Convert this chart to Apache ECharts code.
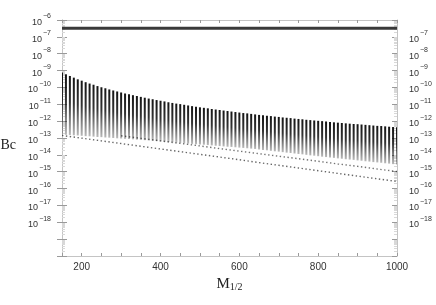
<!DOCTYPE html>
<html>
<head>
<meta charset="utf-8">
<script src="https://cdn.jsdelivr.net/npm/echarts@6/dist/echarts.min.js"></script>
<style>
html,body{margin:0;padding:0;background:#fff;}
#c{width:436px;height:305px;}
</style>
</head>
<body>
<div id="c"></div>
<script>
// ---- data ----
const xs = [150,160,170,180,190,200,210,220,230,240,250,260,270,280,290,300,310,320,330,340,350,360,370,380,390,400,410,420,430,440,450,460,470,480,490,500,510,520,530,540,550,560,570,580,590,600,610,620,630,640,650,660,670,680,690,700,710,720,730,740,750,760,770,780,790,800,810,820,830,840,850,860,870,880,890,900,910,920,930,940,950,960,970,980,990,1000];
// upper edge of each dotted column (log10 of Bc)
const upperLog10 = [-9.11,-9.22,-9.32,-9.42,-9.52,-9.60,-9.69,-9.77,-9.84,-9.92,-9.99,-10.05,-10.12,-10.18,-10.24,-10.30,-10.36,-10.41,-10.46,-10.51,-10.56,-10.61,-10.66,-10.70,-10.75,-10.79,-10.83,-10.88,-10.92,-10.96,-10.99,-11.03,-11.07,-11.11,-11.14,-11.18,-11.21,-11.24,-11.28,-11.31,-11.34,-11.37,-11.40,-11.43,-11.46,-11.49,-11.52,-11.54,-11.57,-11.60,-11.63,-11.65,-11.68,-11.70,-11.73,-11.75,-11.78,-11.80,-11.82,-11.85,-11.87,-11.89,-11.92,-11.94,-11.96,-11.98,-12.00,-12.02,-12.05,-12.07,-12.09,-12.11,-12.13,-12.15,-12.17,-12.18,-12.20,-12.22,-12.24,-12.26,-12.28,-12.29,-12.31,-12.33,-12.35,-12.36];
// lower edge of each dotted column (log10 of Bc)
const lowerLog10 = [-12.79,-12.81,-12.82,-12.84,-12.85,-12.87,-12.89,-12.90,-12.92,-12.94,-12.95,-12.97,-12.98,-13.00,-13.02,-13.03,-13.05,-13.06,-13.08,-13.10,-13.11,-13.13,-13.14,-13.16,-13.18,-13.20,-13.22,-13.24,-13.26,-13.27,-13.29,-13.31,-13.33,-13.35,-13.37,-13.39,-13.40,-13.42,-13.44,-13.46,-13.48,-13.50,-13.52,-13.53,-13.55,-13.57,-13.59,-13.61,-13.63,-13.65,-13.68,-13.71,-13.73,-13.76,-13.79,-13.81,-13.84,-13.87,-13.89,-13.92,-13.95,-13.97,-14.00,-14.03,-14.05,-14.08,-14.11,-14.13,-14.16,-14.18,-14.21,-14.23,-14.26,-14.28,-14.30,-14.33,-14.35,-14.38,-14.40,-14.43,-14.45,-14.47,-14.50,-14.52,-14.55,-14.57];
// two isolated dotted curves below the cloud
const lowAXs = [150,200,250,300,350,400,450,500,550,600,650,700,750,800,850,900,950,1000];
const lowALog10 = [-12.85,-13.01,-13.17,-13.33,-13.49,-13.65,-13.81,-13.97,-14.13,-14.29,-14.46,-14.62,-14.78,-14.94,-15.10,-15.26,-15.42,-15.58];
const lowBXs = [300,350,400,450,500,550,600,650,700,750,800,850,900,950,1000];
const lowBLog10 = [-12.87,-13.02,-13.17,-13.32,-13.47,-13.63,-13.78,-13.93,-14.08,-14.23,-14.38,-14.54,-14.68,-14.84,-14.99];
// horizontal bound
const boundXs = [150,1000];
const boundValue = 3.2e-7;
// tick labels
const xLabelValues = [200,400,600,800,1000];
const leftLabelExps = [-6,-7,-8,-9,-10,-11,-12,-13,-14,-15,-16,-17,-18];
const rightLabelExps = [-7,-8,-9,-10,-11,-12,-13,-14,-15,-16,-17,-18];

// ---- build ----
const colData = xs.map((x,i)=>[x, Math.pow(10,lowerLog10[i]), Math.pow(10,upperLog10[i])]);
const lowA = lowAXs.map((x,i)=>[x, Math.pow(10,lowALog10[i])]);
const lowB = lowBXs.map((x,i)=>[x, Math.pow(10,lowBLog10[i])]);
const bound = boundXs.map(x=>[x, boundValue]);

function expLabel(list){
  return function(v){
    const e = Math.round(Math.log10(v));
    if (list.indexOf(e) < 0) return '';
    return '{b|10}{s|' + (e<0?'\u2212':'') + Math.abs(e) + '}';
  };
}
const rich = {
  b:{fontFamily:'Liberation Sans',fontSize:9,color:'#333',lineHeight:14,verticalAlign:'bottom'},
  s:{fontFamily:'Liberation Sans',fontSize:7,color:'#333',lineHeight:14,verticalAlign:'top',padding:[0,0,0,1]}
};
const axisGray = '#c4c4c4';
const tickGray = '#9a9a9a';

const baseY = {type:'log',logBase:10,min:1e-20,max:1e-6,interval:1,
  splitLine:{show:false},axisLine:{show:true,lineStyle:{color:axisGray}}};

const chart = echarts.init(document.getElementById('c'),null,{renderer:'canvas'});
chart.setOption({
  animation:false,
  backgroundColor:'#fff',
  grid:{left:62,right:39,top:20,bottom:49,containLabel:false,outerBoundsMode:'none'},
  xAxis:[
    {type:'value',min:150,max:1000,interval:50,position:'bottom',
     axisLine:{lineStyle:{color:axisGray}},
     axisTick:{inside:true,length:3,lineStyle:{color:tickGray}},
     splitLine:{show:false},
     axisLabel:{margin:6,fontFamily:'Liberation Sans',fontSize:10,color:'#333',
       formatter:v=> xLabelValues.indexOf(v)>=0 ? String(v) : ''},
     name:'{m|M}{s|1/2}',nameLocation:'middle',nameGap:20,
     nameTextStyle:{rich:{m:{fontFamily:'Liberation Serif',fontSize:15,color:'#222',verticalAlign:'bottom',lineHeight:16},
                          s:{fontFamily:'Liberation Serif',fontSize:10,color:'#222',verticalAlign:'bottom',lineHeight:12}}}},
    {type:'value',min:150,max:1000,interval:50,position:'top',
     axisLine:{lineStyle:{color:axisGray}},
     axisTick:{inside:true,length:3,lineStyle:{color:tickGray}},
     splitLine:{show:false},axisLabel:{show:false}}
  ],
  yAxis:[
    Object.assign({},baseY,{position:'left',
      axisTick:{inside:false,length:5,lineStyle:{color:tickGray}},
      axisLabel:{margin:11,formatter:expLabel(leftLabelExps),rich:rich},
      name:'Bc',nameLocation:'middle',nameGap:46,nameRotate:0,
      nameTextStyle:{fontFamily:'Liberation Serif',fontSize:14,color:'#222',verticalAlign:'top'}}),
    Object.assign({},baseY,{position:'right',
      axisTick:{inside:true,length:5,lineStyle:{color:tickGray}},
      minorTick:{show:true,splitNumber:9,length:3,lineStyle:{color:'#d8d8d8'}},
      axisLabel:{margin:12,formatter:expLabel(rightLabelExps),rich:rich}}),
    Object.assign({},baseY,{position:'left',
      axisTick:{inside:true,length:5,lineStyle:{color:tickGray}},
      minorTick:{show:true,splitNumber:9,length:3,lineStyle:{color:'#d8d8d8'}},
      axisLabel:{show:false}})
  ],
  series:[
    {type:'custom',xAxisIndex:0,yAxisIndex:0,data:colData,encode:{x:0,y:[1,2]},clip:true,
     renderItem:function(params,api){
       const x = api.value(0);
       const p1 = api.coord([x, api.value(2)]);
       const p2 = api.coord([x, api.value(1)]);
       return {type:'line',shape:{x1:p1[0],y1:p1[1],x2:p2[0],y2:p2[1]},
         style:{stroke:new echarts.graphic.LinearGradient(0,p1[1],0,p2[1],[
           {offset:0,color:'rgba(0,0,0,0.92)'},{offset:0.45,color:'rgba(0,0,0,0.8)'},{offset:0.75,color:'rgba(0,0,0,0.5)'},{offset:1,color:'rgba(0,0,0,0.28)'}],true),
           lineWidth:2}};
     }},
    {type:'line',data:lowA,symbol:'none',lineStyle:{color:'rgba(0,0,0,0.6)',width:1.4,type:[1.4,2.5]}},
    {type:'line',data:lowB,symbol:'none',lineStyle:{color:'rgba(0,0,0,0.55)',width:1.4,type:[1.4,2.5]}},
    {type:'line',data:bound,symbol:'none',lineStyle:{color:'#3a3a3a',width:3}}
  ]
});
</script>
</body>
</html>
